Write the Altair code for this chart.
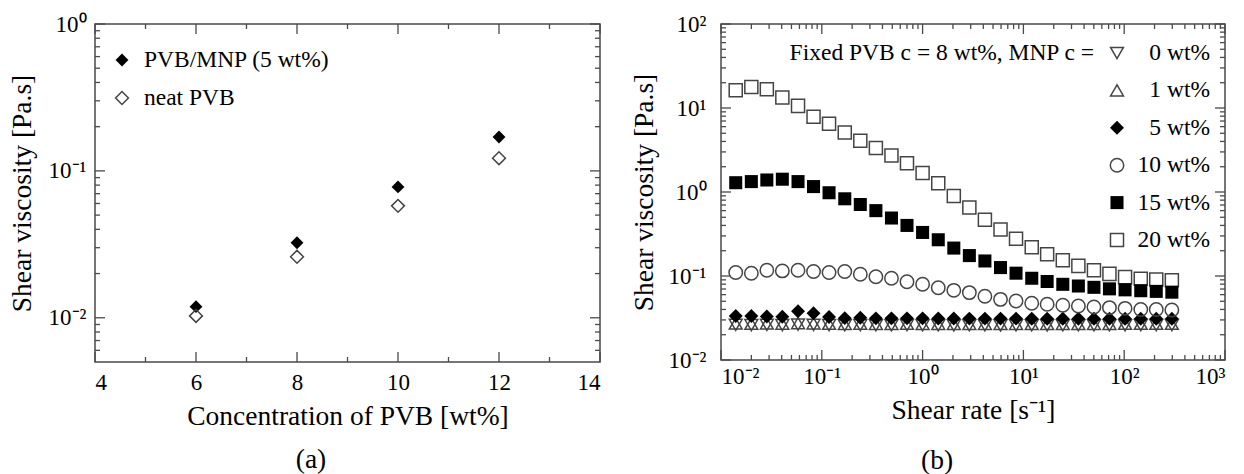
import altair as alt
import pandas as pd

FONT = "Liberation Serif"
AXC = "#4a4a4a"
OPEN = "#444444"

# ---------------- panel (a) data ----------------
pvb_conc = [6, 8, 10, 12]
visc_pvb_mnp = [0.0119, 0.0324, 0.0778, 0.170]
visc_neat_pvb = [0.0103, 0.0260, 0.0578, 0.122]
legend_a_labels = ["PVB/MNP (5 wt%)", "neat PVB"]
xticks_a = [4, 6, 8, 10, 12, 14]
xminor_a = [5, 7, 9, 11, 13]
yticks_a = [0.01, 0.1, 1]
yminor_a = [0.006, 0.007, 0.008, 0.009, 0.02, 0.03, 0.04, 0.05, 0.06, 0.07, 0.08, 0.09,
            0.2, 0.3, 0.4, 0.5, 0.6, 0.7, 0.8, 0.9]

# ---------------- panel (b) data ----------------
shear_rate = [0.0140, 0.0200, 0.0285, 0.0406, 0.0581, 0.0828, 0.118, 0.169, 0.241, 0.344,
              0.491, 0.700, 1.00, 1.43, 2.04, 2.91, 4.15, 5.93, 8.45, 12.1,
              17.2, 24.6, 35.1, 50.1, 71.4, 102, 146, 208, 297]
visc_0 = [0.0262, 0.0260, 0.0262, 0.0260, 0.0264, 0.0262, 0.0260, 0.0259, 0.0260, 0.0259,
          0.0259, 0.0260, 0.0259, 0.0259, 0.0258, 0.0259, 0.0259, 0.0258, 0.0259, 0.0259,
          0.0258, 0.0259, 0.0259, 0.0259, 0.0259, 0.0259, 0.0260, 0.0260, 0.0260]
visc_1 = [0.0272, 0.0270, 0.0272, 0.0271, 0.0275, 0.0273, 0.0270, 0.0269, 0.0270, 0.0269,
          0.0269, 0.0270, 0.0269, 0.0269, 0.0269, 0.0269, 0.0269, 0.0269, 0.0269, 0.0269,
          0.0269, 0.0269, 0.0269, 0.0269, 0.0269, 0.0270, 0.0270, 0.0270, 0.0270]
visc_5 = [0.0334, 0.0334, 0.0330, 0.0328, 0.0380, 0.0360, 0.0325, 0.0315, 0.0318, 0.0313,
          0.0313, 0.0313, 0.0313, 0.0312, 0.0312, 0.0311, 0.0311, 0.0311, 0.0311, 0.0310,
          0.0310, 0.0310, 0.0310, 0.0310, 0.0310, 0.0310, 0.0310, 0.0310, 0.0310]
visc_10 = [0.110, 0.108, 0.117, 0.115, 0.117, 0.113, 0.110, 0.113, 0.105, 0.098,
           0.094, 0.0856, 0.0796, 0.0726, 0.0675, 0.0634, 0.0573, 0.0527, 0.0503, 0.0473,
           0.0460, 0.0448, 0.0440, 0.0428, 0.0420, 0.0412, 0.0400, 0.0400, 0.0394]
visc_15 = [1.29, 1.33, 1.39, 1.42, 1.33, 1.16, 0.98, 0.83, 0.71, 0.60,
           0.49, 0.40, 0.33, 0.27, 0.215, 0.175, 0.151, 0.126, 0.108, 0.094,
           0.086, 0.0796, 0.076, 0.0733, 0.0703, 0.0684, 0.0668, 0.0656, 0.0642]
visc_20 = [16.3, 17.8, 16.7, 13.3, 10.6, 7.87, 6.5, 5.12, 4.08, 3.34,
           2.72, 2.20, 1.68, 1.27, 0.896, 0.653, 0.466, 0.357, 0.277, 0.220,
           0.181, 0.154, 0.132, 0.117, 0.106, 0.097, 0.093, 0.091, 0.089]
mnp_labels = ["0 wt%", "1 wt%", "5 wt%", "10 wt%", "15 wt%", "20 wt%"]
legend_b_title = "Fixed PVB c = 8 wt%, MNP c ="
xticks_b = [0.01, 0.1, 1, 10, 100, 1000]
yticks_b = [0.01, 0.1, 1, 10, 100]
xminor_b = [m * 10.0 ** e for e in range(-2, 3) for m in range(2, 10)]
yminor_b = [m * 10.0 ** e for e in range(-2, 2) for m in range(2, 10)]

LOGLAB = ("['10\u207b\u00b2','10\u207b\u00b9','10\u2070','10\u00b9','10\u00b2','10\u00b3']"
          "[round(log(datum.value)/LN10)+2]")

# styles per series: (shape, filled, size)
styles_b = [("triangle-down", False, 165), ("triangle-up", False, 165), ("diamond", True, 195),
            ("circle", False, 180), ("square", True, 170), ("square", False, 170)]
series_b = [visc_0, visc_1, visc_5, visc_10, visc_15, visc_20]


def mk(shape, filled, size):
    if filled:
        return dict(shape=shape, filled=True, size=size, color="black", opacity=1, strokeWidth=0)
    return dict(shape=shape, filled=False, size=size, color=OPEN, opacity=1, strokeWidth=1.5)


def tick_layers(xvals, yvals, xs, ys, W, H, size):
    dx = pd.DataFrame({"v": xvals})
    dy = pd.DataFrame({"v": yvals})
    rule = dict(color=AXC, strokeWidth=1.3)
    out = []
    for y0, y1 in [(H, H - size), (0, size)]:
        out.append(alt.Chart(dx).mark_rule(**rule).encode(
            x=alt.X("v", type="quantitative", scale=xs, axis=None),
            y=alt.value(y0), y2=alt.value(y1)))
    for x0, x1 in [(0, size), (W, W - size)]:
        out.append(alt.Chart(dy).mark_rule(**rule).encode(
            y=alt.Y("v", type="quantitative", scale=ys, axis=None),
            x=alt.value(x0), x2=alt.value(x1)))
    return out


def text_layer(txt, x, y, align="left", size=23.5):
    return alt.Chart(pd.DataFrame({"t": [txt]})).mark_text(
        align=align, baseline="middle", font=FONT, fontSize=size, color="black"
    ).encode(text="t:N", x=alt.value(x), y=alt.value(y))


def sym_layer(shape, filled, size, x, y):
    return alt.Chart(pd.DataFrame({"t": [shape]})).mark_point(**mk(shape, filled, size)).encode(
        x=alt.value(x), y=alt.value(y))


# ---------------- panel (a) ----------------
W1, H1 = 505, 338
df_a = pd.DataFrame({"conc": pvb_conc, "mnp": visc_pvb_mnp, "neat": visc_neat_pvb})
xs_a = alt.Scale(domain=[4, 14], nice=False, zero=False)
ys_a = alt.Scale(type="log", domain=[0.005, 1], nice=False)

lab_a = alt.Chart(df_a).mark_point(**mk("diamond", True, 165)).encode(
    x=alt.X("conc", type="quantitative", scale=xs_a,
            axis=alt.Axis(orient="bottom", values=xticks_a, ticks=False, domain=False, grid=False,
                          title="Concentration of PVB [wt%]", labelFontSize=23, labelPadding=9,
                          titleFontSize=27.5, titleFontWeight="normal", titlePadding=8,
                          labelColor="black", titleColor="black")),
    y=alt.Y("mnp", type="quantitative", scale=ys_a,
            axis=alt.Axis(orient="left", values=yticks_a, ticks=False, domain=False, grid=False,
                          labelExpr=LOGLAB, title="Shear viscosity [Pa.s]", labelFontSize=23,
                          labelPadding=9, titleFontSize=27.5, titleFontWeight="normal",
                          titlePadding=12, labelColor="black", titleColor="black")),
)
neat_a = alt.Chart(df_a).mark_point(**mk("diamond", False, 165)).encode(
    x=alt.X("conc", type="quantitative", scale=xs_a, axis=None),
    y=alt.Y("neat", type="quantitative", scale=ys_a, axis=None),
)
layers_a = [lab_a, neat_a]
layers_a += tick_layers(xticks_a, yticks_a, xs_a, ys_a, W1, H1, 10)
layers_a += tick_layers(xminor_a, yminor_a, xs_a, ys_a, W1, H1, 5)
layers_a += [
    sym_layer("diamond", True, 165, 27, 36), text_layer(legend_a_labels[0], 49, 36),
    sym_layer("diamond", False, 165, 27, 74), text_layer(legend_a_labels[1], 49, 74),
    text_layer("(a)", 216, 436, align="center", size=27.5),
]
chart_a = alt.layer(*layers_a).resolve_axis(x="independent", y="independent").properties(width=W1, height=H1)

# ---------------- panel (b) ----------------
W2, H2 = 504, 336
rows = []
for lab, vals in zip(mnp_labels, series_b):
    for r, v in zip(shear_rate, vals):
        rows.append({"rate": r, "visc": v, "mnp": lab})
df_b = pd.DataFrame(rows)
xs_b = alt.Scale(type="log", domain=[0.01, 1000], nice=False)
ys_b = alt.Scale(type="log", domain=[0.01, 100], nice=False)

layers_b = []
for i, (lab, (shape, filled, size)) in enumerate(zip(mnp_labels, styles_b)):
    d = df_b[df_b["mnp"] == lab]
    if i == 0:
        xa = alt.Axis(orient="bottom", values=xticks_b, ticks=False, domain=False, grid=False,
                      labelExpr=LOGLAB, title="Shear rate [s\u207b\u00b9]", labelFontSize=23,
                      labelPadding=5, titleFontSize=27.5, titleFontWeight="normal", titlePadding=8,
                      labelColor="black", titleColor="black")
        ya = alt.Axis(orient="left", values=yticks_b, ticks=False, domain=False, grid=False,
                      labelExpr=LOGLAB, title="Shear viscosity [Pa.s]", labelFontSize=23,
                      labelPadding=15, titleFontSize=27.5, titleFontWeight="normal",
                      titlePadding=10, labelColor="black", titleColor="black")
    else:
        xa = None
        ya = None
    enc_x = alt.X("rate", type="quantitative", scale=xs_b, axis=xa)
    enc_y = alt.Y("visc", type="quantitative", scale=ys_b, axis=ya)
    layers_b.append(alt.Chart(d).mark_point(**mk(shape, filled, size)).encode(x=enc_x, y=enc_y))

# draw open squares before filled squares
layers_b = layers_b[:4] + [layers_b[5], layers_b[4]]
layers_b += tick_layers(xticks_b, yticks_b, xs_b, ys_b, W2, H2, 10)
layers_b += tick_layers(xminor_b, yminor_b, xs_b, ys_b, W2, H2, 5)
layers_b.append(text_layer(legend_b_title, 373, 29, align="right"))
for i, (lab, (shape, filled, size)) in enumerate(zip(mnp_labels, styles_b)):
    yy = 29 + 37.4 * i
    layers_b.append(sym_layer(shape, filled, size, 396, yy))
    layers_b.append(text_layer(lab, 489, yy, align="right"))
layers_b.append(text_layer("(b)", 216, 437, align="center", size=27.5))
chart_b = alt.layer(*layers_b).resolve_axis(x="independent", y="independent").properties(width=W2, height=H2)

chart = alt.hconcat(chart_a, chart_b, spacing=27).properties(
    padding={"left": 7, "top": 12, "right": 0, "bottom": 0}
).configure(font=FONT).configure_view(stroke=AXC, strokeWidth=1.5).configure_axis(
    labelFont=FONT, titleFont=FONT
)

chart.save("out.html", embed_options={"renderer": "svg", "actions": False})
